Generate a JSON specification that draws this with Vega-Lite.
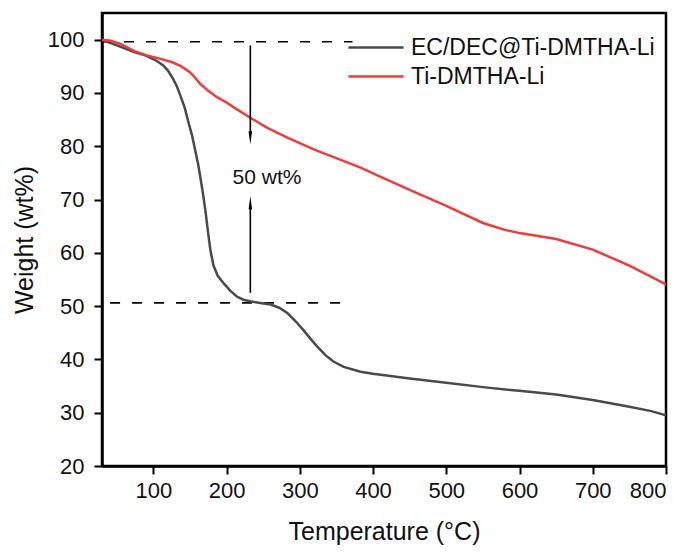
{
  "$schema": "https://vega.github.io/schema/vega-lite/v6.json",
  "width": 564,
  "height": 453,
  "autosize": {"type": "none"},
  "padding": {"left": 102, "top": 13, "right": 25, "bottom": 86},
  "background": "white",
  "config": {
    "font": "Liberation Sans",
    "view": {"stroke": "black", "strokeWidth": 2.5},
    "axis": {
      "grid": false,
      "domainColor": "black",
      "domainWidth": 2.5,
      "tickColor": "black",
      "tickWidth": 2,
      "tickSize": 8,
      "labelFont": "Liberation Sans",
      "labelFontSize": 22,
      "labelColor": "#111",
      "titleFont": "Liberation Sans",
      "titleFontSize": 25,
      "titleFontWeight": "normal",
      "titleColor": "#111"
    },
    "legend": {
      "labelFont": "Liberation Sans",
      "labelFontSize": 23,
      "labelColor": "#111",
      "labelLimit": 0
    }
  },
  "datasets": {
    "curves": [
      {"T": 30, "W": 99.9, "s": "EC/DEC@Ti-DMTHA-Li"},
      {"T": 45, "W": 99.2, "s": "EC/DEC@Ti-DMTHA-Li"},
      {"T": 60, "W": 98.4, "s": "EC/DEC@Ti-DMTHA-Li"},
      {"T": 75, "W": 97.6, "s": "EC/DEC@Ti-DMTHA-Li"},
      {"T": 90, "W": 97.0, "s": "EC/DEC@Ti-DMTHA-Li"},
      {"T": 105, "W": 96.0, "s": "EC/DEC@Ti-DMTHA-Li"},
      {"T": 114, "W": 95.1, "s": "EC/DEC@Ti-DMTHA-Li"},
      {"T": 120, "W": 94.2, "s": "EC/DEC@Ti-DMTHA-Li"},
      {"T": 126, "W": 92.9, "s": "EC/DEC@Ti-DMTHA-Li"},
      {"T": 132, "W": 91.3, "s": "EC/DEC@Ti-DMTHA-Li"},
      {"T": 137, "W": 89.5, "s": "EC/DEC@Ti-DMTHA-Li"},
      {"T": 143, "W": 87.2, "s": "EC/DEC@Ti-DMTHA-Li"},
      {"T": 148, "W": 84.5, "s": "EC/DEC@Ti-DMTHA-Li"},
      {"T": 153, "W": 82.0, "s": "EC/DEC@Ti-DMTHA-Li"},
      {"T": 157, "W": 79.4, "s": "EC/DEC@Ti-DMTHA-Li"},
      {"T": 161, "W": 76.8, "s": "EC/DEC@Ti-DMTHA-Li"},
      {"T": 164, "W": 74.4, "s": "EC/DEC@Ti-DMTHA-Li"},
      {"T": 168, "W": 71.0, "s": "EC/DEC@Ti-DMTHA-Li"},
      {"T": 171, "W": 68.1, "s": "EC/DEC@Ti-DMTHA-Li"},
      {"T": 175, "W": 63.6, "s": "EC/DEC@Ti-DMTHA-Li"},
      {"T": 178, "W": 60.5, "s": "EC/DEC@Ti-DMTHA-Li"},
      {"T": 182, "W": 57.7, "s": "EC/DEC@Ti-DMTHA-Li"},
      {"T": 188, "W": 55.7, "s": "EC/DEC@Ti-DMTHA-Li"},
      {"T": 196, "W": 54.3, "s": "EC/DEC@Ti-DMTHA-Li"},
      {"T": 205, "W": 52.9, "s": "EC/DEC@Ti-DMTHA-Li"},
      {"T": 214, "W": 51.8, "s": "EC/DEC@Ti-DMTHA-Li"},
      {"T": 223, "W": 51.2, "s": "EC/DEC@Ti-DMTHA-Li"},
      {"T": 232, "W": 50.9, "s": "EC/DEC@Ti-DMTHA-Li"},
      {"T": 246, "W": 50.6, "s": "EC/DEC@Ti-DMTHA-Li"},
      {"T": 260, "W": 50.3, "s": "EC/DEC@Ti-DMTHA-Li"},
      {"T": 272, "W": 49.7, "s": "EC/DEC@Ti-DMTHA-Li"},
      {"T": 283, "W": 48.7, "s": "EC/DEC@Ti-DMTHA-Li"},
      {"T": 294, "W": 47.2, "s": "EC/DEC@Ti-DMTHA-Li"},
      {"T": 305, "W": 45.5, "s": "EC/DEC@Ti-DMTHA-Li"},
      {"T": 315, "W": 43.8, "s": "EC/DEC@Ti-DMTHA-Li"},
      {"T": 324, "W": 42.4, "s": "EC/DEC@Ti-DMTHA-Li"},
      {"T": 335, "W": 40.8, "s": "EC/DEC@Ti-DMTHA-Li"},
      {"T": 346, "W": 39.6, "s": "EC/DEC@Ti-DMTHA-Li"},
      {"T": 360, "W": 38.6, "s": "EC/DEC@Ti-DMTHA-Li"},
      {"T": 383, "W": 37.7, "s": "EC/DEC@Ti-DMTHA-Li"},
      {"T": 400, "W": 37.3, "s": "EC/DEC@Ti-DMTHA-Li"},
      {"T": 450, "W": 36.4, "s": "EC/DEC@Ti-DMTHA-Li"},
      {"T": 500, "W": 35.6, "s": "EC/DEC@Ti-DMTHA-Li"},
      {"T": 550, "W": 34.8, "s": "EC/DEC@Ti-DMTHA-Li"},
      {"T": 600, "W": 34.1, "s": "EC/DEC@Ti-DMTHA-Li"},
      {"T": 650, "W": 33.4, "s": "EC/DEC@Ti-DMTHA-Li"},
      {"T": 700, "W": 32.4, "s": "EC/DEC@Ti-DMTHA-Li"},
      {"T": 750, "W": 31.1, "s": "EC/DEC@Ti-DMTHA-Li"},
      {"T": 780, "W": 30.3, "s": "EC/DEC@Ti-DMTHA-Li"},
      {"T": 800, "W": 29.5, "s": "EC/DEC@Ti-DMTHA-Li"},
      {"T": 30, "W": 100, "s": "Ti-DMTHA-Li"},
      {"T": 42, "W": 99.8, "s": "Ti-DMTHA-Li"},
      {"T": 55, "W": 99.2, "s": "Ti-DMTHA-Li"},
      {"T": 65, "W": 98.5, "s": "Ti-DMTHA-Li"},
      {"T": 75, "W": 97.8, "s": "Ti-DMTHA-Li"},
      {"T": 90, "W": 97.1, "s": "Ti-DMTHA-Li"},
      {"T": 110, "W": 96.4, "s": "Ti-DMTHA-Li"},
      {"T": 125, "W": 95.8, "s": "Ti-DMTHA-Li"},
      {"T": 137, "W": 95.1, "s": "Ti-DMTHA-Li"},
      {"T": 150, "W": 93.9, "s": "Ti-DMTHA-Li"},
      {"T": 157, "W": 92.9, "s": "Ti-DMTHA-Li"},
      {"T": 164, "W": 91.7, "s": "Ti-DMTHA-Li"},
      {"T": 175, "W": 90.4, "s": "Ti-DMTHA-Li"},
      {"T": 187, "W": 89.2, "s": "Ti-DMTHA-Li"},
      {"T": 200, "W": 88.2, "s": "Ti-DMTHA-Li"},
      {"T": 210, "W": 87.3, "s": "Ti-DMTHA-Li"},
      {"T": 232, "W": 85.4, "s": "Ti-DMTHA-Li"},
      {"T": 255, "W": 83.5, "s": "Ti-DMTHA-Li"},
      {"T": 283, "W": 81.6, "s": "Ti-DMTHA-Li"},
      {"T": 300, "W": 80.6, "s": "Ti-DMTHA-Li"},
      {"T": 319, "W": 79.4, "s": "Ti-DMTHA-Li"},
      {"T": 355, "W": 77.5, "s": "Ti-DMTHA-Li"},
      {"T": 383, "W": 76.0, "s": "Ti-DMTHA-Li"},
      {"T": 400, "W": 74.9, "s": "Ti-DMTHA-Li"},
      {"T": 450, "W": 71.8, "s": "Ti-DMTHA-Li"},
      {"T": 500, "W": 68.8, "s": "Ti-DMTHA-Li"},
      {"T": 550, "W": 65.6, "s": "Ti-DMTHA-Li"},
      {"T": 580, "W": 64.3, "s": "Ti-DMTHA-Li"},
      {"T": 600, "W": 63.7, "s": "Ti-DMTHA-Li"},
      {"T": 650, "W": 62.6, "s": "Ti-DMTHA-Li"},
      {"T": 700, "W": 60.6, "s": "Ti-DMTHA-Li"},
      {"T": 750, "W": 57.6, "s": "Ti-DMTHA-Li"},
      {"T": 800, "W": 54.1, "s": "Ti-DMTHA-Li"}
    ],
    "dashes": [
      {"T1": 30, "T2": 372, "W": 99.6},
      {"T1": 41, "T2": 360, "W": 50.6}
    ],
    "shafts": [
      {"T": 232.5, "W1": 98.9, "W2": 82.0},
      {"T": 232.5, "W1": 52.5, "W2": 69.0}
    ],
    "headDown": [{"T": 232.5, "W": 81.6}],
    "headUp": [{"T": 232.5, "W": 69.4}],
    "note": [{"T": 255.3, "W": 74.1, "label": "50 wt%"}]
  },
  "layer": [
    {
      "data": {"name": "dashes"},
      "mark": {"type": "rule", "color": "black", "strokeWidth": 1.6, "strokeDash": [10, 12]},
      "encoding": {
        "x": {"field": "T1", "type": "quantitative", "scale": {"domain": [30, 800], "nice": false, "zero": false},
          "axis": {"values": [100, 200, 300, 400, 500, 600, 700, 800], "title": "Temperature (°C)", "labelPadding": 6, "titlePadding": 18}},
        "x2": {"field": "T2"},
        "y": {"field": "W", "type": "quantitative", "scale": {"domain": [20, 105], "nice": false, "zero": false},
          "axis": {"values": [20, 30, 40, 50, 60, 70, 80, 90, 100], "title": "Weight (wt%)", "labelPadding": 10, "titlePadding": 10}}
      }
    },
    {
      "data": {"name": "curves"},
      "mark": {"type": "line", "strokeWidth": 2.5},
      "encoding": {
        "x": {"field": "T", "type": "quantitative"},
        "y": {"field": "W", "type": "quantitative"},
        "color": {
          "field": "s", "type": "nominal",
          "scale": {"domain": ["EC/DEC@Ti-DMTHA-Li", "Ti-DMTHA-Li"], "range": ["#4a4a4a", "#ef3b3b"]},
          "legend": {
            "title": null, "orient": "none", "legendX": 261, "legendY": 21.5,
            "symbolType": "M-2.4,0L2.4,0", "symbolSize": 529, "symbolStrokeWidth": 2.5,
            "symbolFillColor": "transparent",
            "labelOffset": 22, "rowPadding": 4, "padding": 0
          }
        }
      }
    },
    {
      "data": {"name": "shafts"},
      "mark": {"type": "rule", "color": "black", "strokeWidth": 1.6},
      "encoding": {
        "x": {"field": "T", "type": "quantitative"},
        "y": {"field": "W1", "type": "quantitative"},
        "y2": {"field": "W2"}
      }
    },
    {
      "data": {"name": "headDown"},
      "mark": {"type": "point", "shape": "M-0.27,-1L0.27,-1L0,1Z", "filled": true, "color": "black", "opacity": 1, "size": 169},
      "encoding": {
        "x": {"field": "T", "type": "quantitative"},
        "y": {"field": "W", "type": "quantitative"}
      }
    },
    {
      "data": {"name": "headUp"},
      "mark": {"type": "point", "shape": "M-0.27,1L0.27,1L0,-1Z", "filled": true, "color": "black", "opacity": 1, "size": 169},
      "encoding": {
        "x": {"field": "T", "type": "quantitative"},
        "y": {"field": "W", "type": "quantitative"}
      }
    },
    {
      "data": {"name": "note"},
      "mark": {"type": "text", "fontSize": 21, "font": "Liberation Sans", "color": "#111", "align": "center", "baseline": "middle"},
      "encoding": {
        "x": {"field": "T", "type": "quantitative"},
        "y": {"field": "W", "type": "quantitative"},
        "text": {"field": "label"}
      }
    }
  ]
}
